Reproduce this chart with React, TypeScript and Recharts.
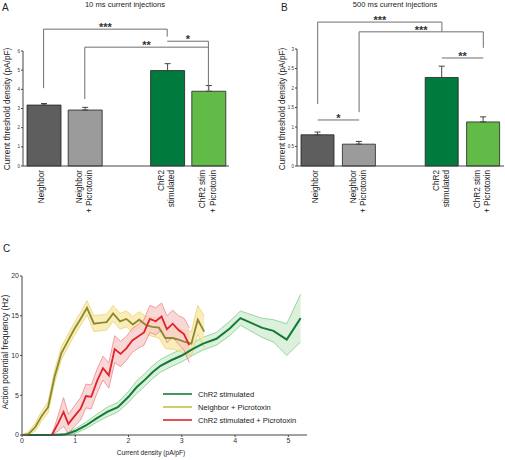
import React from 'react';
import {
  BarChart, Bar, XAxis, YAxis, ErrorBar, ReferenceLine, Cell,
  ComposedChart, Area, Line, Legend,
} from 'recharts';

const FONT = "'Liberation Sans', Arial, Helvetica, sans-serif";

// ---------- Panels A & B (bar charts) ----------
const categories = ['Neighbor', 'Neighbor\n+ Picrotoxin', ' ', 'ChR2\nstimulated', 'ChR2 stim\n+ Picrotoxin'];
const barColors = ['#5e5e5e', '#9b9b9b', '#ffffff', '#007a3d', '#63bb47'];

const valuesA = [3.18, 2.92, null, 4.98, 3.9];
const errorsA = [0.08, 0.14, null, 0.36, 0.3];
const yTicksA = [0, 1, 2, 3, 4, 5, 6];

const valuesB = [0.8, 0.56, null, 2.27, 1.13];
const errorsB = [0.07, 0.07, null, 0.29, 0.13];
const yTicksB = [0, 0.5, 1, 1.5, 2, 2.5, 3];

// significance brackets: category indices, bracket height, leg bottoms
const bracketsA = [
  { from: 0, to: 3, y: 7.14, left: 4.06, right: 6.75, label: '***' },
  { from: 1, to: 4, y: 6.2, left: 3.49, right: null, label: '**' },
  { from: 3, to: 4, y: 6.51, left: null, right: 3.85, label: '*' },
];
const bracketsB = [
  { from: 0, to: 3, y: 3.69, left: 1.59, right: 3.44, label: '***' },
  { from: 1, to: 4, y: 3.44, left: 1.38, right: 3.03, label: '***' },
  { from: 3, to: 4, y: 2.77, left: null, right: null, label: '**' },
  { from: 0, to: 1, y: 1.18, left: null, right: null, label: '*' },
];

// ---------- Panel C (frequency-current curves) ----------
const greenX = [0, 0.5, 0.8, 1.0, 1.2, 1.4, 1.6, 1.8, 2.0, 2.15, 2.3, 2.45, 2.6, 2.8, 3.0, 3.2, 3.4, 3.65, 3.9, 4.1, 4.5, 4.72, 4.97, 5.23];
const greenY = [0, 0, 0.05, 0.5, 1.2, 2.1, 2.9, 3.5, 4.8, 6.0, 6.9, 7.9, 8.7, 9.4, 10.0, 10.8, 11.5, 12.1, 13.4, 14.7, 13.5, 13.1, 12.0, 14.7];
const greenErr = [0, 0, 0.1, 0.3, 0.4, 0.5, 0.6, 0.6, 0.7, 0.8, 0.8, 0.8, 0.8, 0.8, 0.8, 0.8, 0.8, 0.8, 0.9, 0.9, 1.2, 1.4, 2.0, 3.0];

const yellowX = [0, 0.12, 0.25, 0.37, 0.49, 0.61, 0.74, 0.86, 0.98, 1.1, 1.22, 1.35, 1.47, 1.59, 1.71, 1.84, 1.96, 2.08, 2.2, 2.33, 2.45, 2.57, 2.69, 2.82, 2.94, 3.06, 3.18, 3.3, 3.42];
const yellowY = [0, 0.1, 1.0, 2.4, 3.5, 7.3, 10.3, 11.8, 13.3, 14.6, 16.0, 14.0, 14.1, 14.2, 15.3, 14.3, 14.6, 13.9, 14.5, 13.8, 13.6, 13.5, 12.2, 12.2, 12.0, 11.7, 11.5, 14.5, 13.0];
const yellowErr = [0, 0.3, 0.5, 0.6, 0.7, 0.8, 0.8, 0.8, 0.8, 0.8, 0.9, 1.0, 1.0, 1.0, 1.0, 1.0, 1.0, 1.0, 1.0, 1.1, 1.2, 1.3, 1.3, 1.4, 1.4, 1.5, 1.5, 1.8, 2.0];

const redX = [0.56, 0.68, 0.78, 0.87, 0.99, 1.1, 1.2, 1.3, 1.41, 1.52, 1.63, 1.74, 1.85, 1.96, 2.07, 2.18, 2.29, 2.4, 2.51, 2.62, 2.72, 2.83, 2.94, 3.04, 3.14];
const redY = [0, 1.5, 2.9, 1.4, 2.4, 3.3, 4.9, 4.8, 6.8, 8.4, 7.5, 10.8, 10.2, 10.9, 11.9, 12.4, 12.9, 14.6, 14.3, 14.9, 13.3, 14.0, 13.2, 12.7, 11.3];
const redErr = [0, 1.0, 1.8, 1.2, 1.3, 1.4, 1.5, 1.5, 1.5, 1.5, 1.6, 1.7, 1.6, 1.5, 1.5, 1.5, 1.6, 1.7, 1.7, 1.7, 1.7, 1.7, 1.8, 2.0, 2.2];

const seriesNames = ['ChR2 stimulated', 'Neighbor + Picrotoxin', 'ChR2 stimulated + Picrotoxin'];
const lineColors = ['#137a3a', '#8a8a2e', '#e0222b'];
const legendColors = ['#137a3a', '#c9c240', '#e0222b'];
const bandFills = ['#cfeccf', '#f8e7a3', '#f8c9c9'];
const bandStrokes = ['#5fbf6a', '#e5c84a', '#ea6a6a'];
const xTicksC = [0, 1, 2, 3, 4, 5];
const yTicksC = [0, 5, 10, 15, 20];

const build = (xs: number[], ys: number[], es: number[]) =>
  xs.map((x, i) => ({ x, y: ys[i], band: [Math.max(0, ys[i] - es[i]), ys[i] + es[i]] }));

const seriesC = [
  build(greenX, greenY, greenErr),
  build(yellowX, yellowY, yellowErr),
  build(redX, redY, redErr),
];

const makeBarData = (vals: (number | null)[], errs: (number | null)[]) =>
  categories.map((name, i) => ({
    name,
    value: vals[i],
    err: errs[i] == null ? null : [0, errs[i]],
  }));

const dataA = makeBarData(valuesA, errorsA);
const dataB = makeBarData(valuesB, errorsB);

const CatTick = (props: any) => {
  const { x, y, payload } = props;
  const lines = String(payload.value).split('\n').filter((l) => l.trim() !== '');
  if (!lines.length) return null;
  const centers = lines.length === 1 ? [-3] : [-6.2, 4.2];
  return (
    <g transform={`translate(${x},${y}) rotate(-90)`}>
      {lines.map((l, i) => (
        <text key={i} x={0} y={centers[i] + 3} textAnchor="end" fontSize={8.2} fill="#222" fontFamily={FONT}>
          {l}
        </text>
      ))}
    </g>
  );
};

const YLabel = (text: string, cx: number, cy: number, fs: number) => () => (
  <text
    x={cx}
    y={cy}
    transform={`rotate(-90, ${cx}, ${cy})`}
    textAnchor="middle"
    fontSize={fs}
    fill="#222"
    fontFamily={FONT}
  >
    {text}
  </text>
);

const renderBrackets = (brs: any[], color: string) =>
  brs.flatMap((b, i) => {
    const out = [
      <ReferenceLine
        key={`h${i}`}
        ifOverflow="visible"
        segment={[{ x: categories[b.from], y: b.y }, { x: categories[b.to], y: b.y }]}
        stroke={color}
        strokeWidth={1}
        label={{ value: b.label, position: 'top', offset: -2, fontSize: 11, fontWeight: 'bold', fill: '#333', fontFamily: FONT }}
      />,
    ];
    if (b.left != null)
      out.push(
        <ReferenceLine
          key={`l${i}`}
          ifOverflow="visible"
          segment={[{ x: categories[b.from], y: b.y }, { x: categories[b.from], y: b.left }]}
          stroke={color}
          strokeWidth={1}
        />
      );
    if (b.right != null)
      out.push(
        <ReferenceLine
          key={`r${i}`}
          ifOverflow="visible"
          segment={[{ x: categories[b.to], y: b.y }, { x: categories[b.to], y: b.right }]}
          stroke={color}
          strokeWidth={1}
        />
      );
    return out;
  });

const BarPanel = ({ data, ticks, domain, brackets, marginTop, marginLeft, marginRight, width, barSize, labelX, labelY, bracketColor }: any) => (
  <BarChart
    width={width}
    height={240}
    data={data}
    margin={{ top: marginTop, right: marginRight, left: marginLeft, bottom: 0 }}
    style={{ overflow: 'visible' }}
  >
    <XAxis
      dataKey="name"
      height={74}
      tickLine={false}
      tickSize={0}
      tickMargin={4}
      stroke="#444"
      interval={0}
      tick={<CatTick />}
    />
    <YAxis
      domain={domain}
      ticks={ticks}
      width={15}
      tickSize={2}
      tickMargin={1}
      stroke="#444"
      tick={{ fontSize: 4.5, fill: '#333', fontFamily: FONT }}
      label={{ content: YLabel('Current threshold density (pA/pF)', labelX, labelY, 8.3) }}
    />
    <Bar dataKey="value" barSize={barSize} stroke="#222" strokeWidth={0.8} isAnimationActive={false}>
      {data.map((d: any, i: number) => (
        <Cell key={i} fill={barColors[i]} />
      ))}
      <ErrorBar dataKey="err" width={3} stroke="#444" strokeWidth={1} direction="y" />
    </Bar>
    {renderBrackets(brackets, bracketColor)}
  </BarChart>
);

const LegendContent = () => (
  <svg width={200} height={40} style={{ display: 'block', overflow: 'visible' }}>
    {seriesNames.map((n, i) => (
      <g key={n}>
        <line x1={3} x2={32} y1={6 + i * 13} y2={6 + i * 13} stroke={legendColors[i]} strokeWidth={1.6} />
        <text x={38} y={8.8 + i * 13} fontSize={7.6} fill="#222" fontFamily={FONT}>
          {n}
        </text>
      </g>
    ))}
  </svg>
);

export default function App() {
  return (
    <div style={{ position: 'absolute', left: 0, top: 0, width: 505, height: 460, background: '#fff', fontFamily: FONT }}>
      {/* Panel A */}
      <div style={{ position: 'absolute', left: 0, top: 0, width: 250, height: 240 }}>
        <BarPanel
          data={dataA}
          ticks={yTicksA}
          domain={[0, 6]}
          brackets={bracketsA}
          marginTop={51}
          marginLeft={8}
          marginRight={21}
          width={250}
          barSize={34}
          labelX={9.5}
          labelY={109}
          bracketColor="#6e6e6e"
        />
      </div>
      {/* Panel B */}
      <div style={{ position: 'absolute', left: 250, top: 0, width: 255, height: 240 }}>
        <BarPanel
          data={dataB}
          ticks={yTicksB}
          domain={[0, 3]}
          brackets={bracketsB}
          marginTop={49}
          marginLeft={32}
          marginRight={1}
          width={255}
          barSize={33}
          labelX={35}
          labelY={109}
          bracketColor="#6e6e6e"
        />
      </div>
      {/* Panel C */}
      <div style={{ position: 'absolute', left: 0, top: 250, width: 505, height: 210 }}>
        <ComposedChart width={505} height={210} margin={{ top: 26, right: 198, left: 0, bottom: 0 }}>
          <XAxis
            type="number"
            dataKey="x"
            domain={[0, 5.35]}
            ticks={xTicksC}
            allowDataOverflow
            height={25}
            tickSize={2}
            tickMargin={1}
            stroke="#444"
            tick={{ fontSize: 7, fill: '#333', fontFamily: FONT }}
            label={{
              content: () => (
                <text x={151} y={455 - 250} textAnchor="middle" fontSize={6.6} fill="#222" fontFamily={FONT}>
                  Current density (pA/pF)
                </text>
              ),
            }}
          />
          <YAxis
            type="number"
            domain={[0, 20]}
            ticks={yTicksC}
            width={22}
            tickSize={2}
            tickMargin={1}
            stroke="#444"
            tick={{ fontSize: 7, fill: '#333', fontFamily: FONT }}
            label={{ content: YLabel('Action potential frequency (Hz)', 7.5, 352 - 250, 8.4) }}
          />
          {seriesC.map((d, i) => (
            <Area
              key={`a${i}`}
              data={d}
              dataKey="band"
              type="linear"
              fill={bandFills[i]}
              fillOpacity={0.75}
              stroke={bandStrokes[i]}
              strokeWidth={0.6}
              dot={false}
              activeDot={false}
              isAnimationActive={false}
            />
          ))}
          {seriesC.map((d, i) => (
            <Line
              key={`l${i}`}
              data={d}
              dataKey="y"
              type="linear"
              stroke={lineColors[i]}
              strokeWidth={i === 0 ? 2 : 1.8}
              dot={false}
              activeDot={false}
              isAnimationActive={false}
            />
          ))}
          <Legend
            layout="vertical"
            align="center"
            verticalAlign="middle"
            content={<LegendContent />}
            wrapperStyle={{ left: 160, top: 138, width: 200, height: 40 }}
          />
        </ComposedChart>
      </div>
      {/* Titles and panel letters */}
      <svg width={505} height={460} style={{ position: 'absolute', left: 0, top: 0, pointerEvents: 'none' }}>
        <text x={2} y={11} fontSize={10} fill="#222" fontFamily={FONT}>A</text>
        <text x={125} y={7} fontSize={7.6} fill="#222" textAnchor="middle" fontFamily={FONT}>10 ms current injections</text>
        <text x={281} y={11} fontSize={10} fill="#222" fontFamily={FONT}>B</text>
        <text x={395} y={7} fontSize={7.6} fill="#222" textAnchor="middle" fontFamily={FONT}>500 ms current injections</text>
        <text x={3} y={252} fontSize={10} fill="#222" fontFamily={FONT}>C</text>
      </svg>
    </div>
  );
}
